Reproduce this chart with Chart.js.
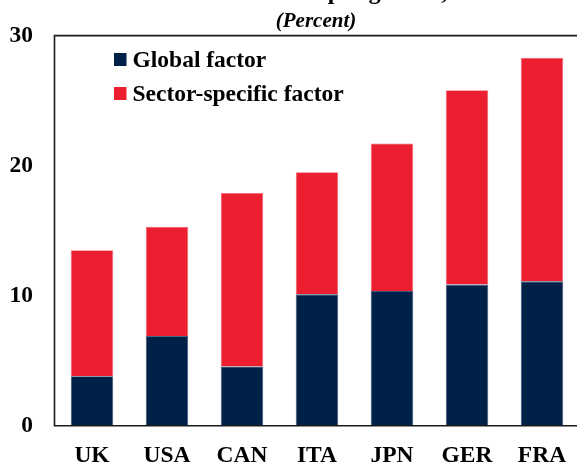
<!DOCTYPE html>
<html>
<head>
<meta charset="utf-8">
<script src="https://cdn.jsdelivr.net/npm/chart.js@4/dist/chart.umd.min.js"></script>
<style>
  html, body { margin: 0; padding: 0; background: #fff; overflow: hidden; }
  #wrap { width: 577px; height: 464px; overflow: hidden; position: relative; }
  canvas { display: block; }
</style>
</head>
<body>
<div id="wrap"><canvas id="c" width="585" height="464"></canvas></div>
<script>
// Countries along the horizontal axis
const countries = ['UK', 'USA', 'CAN', 'ITA', 'JPN', 'GER', 'FRA'];
// Share of output-growth variance explained by each factor (percent)
const globalFactor = [3.8, 6.9, 4.55, 10.1, 10.35, 10.85, 11.1];
const sectorFactor = [9.7, 8.4, 13.35, 9.4, 11.35, 14.95, 17.2];
// Vertical axis ticks
const yTicks = [0, 10, 20, 30];

const seriesNames = ['Global factor', 'Sector-specific factor'];
const NAVY = '#002147';
const RED = '#ec1f31';
const SERIF = '"Liberation Serif", "Times New Roman", serif';

// Header text, legend box and frame drawn on the canvas
const decorations = {
  id: 'decorations',
  afterDraw(chart) {
    const ctx = chart.ctx;
    const a = chart.chartArea;
    ctx.save();
    // main heading (mostly above the visible canvas) and unit line
    ctx.fillStyle = '#000';
    ctx.textAlign = 'center';
    ctx.textBaseline = 'alphabetic';
    ctx.font = 'bold 24px ' + SERIF;
    ctx.fillText('Variances of sectoral output growth, % of total', 316, -1.5);
    ctx.font = 'italic bold 21px ' + SERIF;
    ctx.fillText('(Percent)', 316, 27);

    // legend
    const rows = [59.5, 93.5];
    chart.data.datasets.forEach((ds, i) => {
      const cy = rows[i];
      ctx.fillStyle = ds.backgroundColor;
      ctx.fillRect(114, cy - 6.5, 12.5, 13);
      ctx.fillStyle = '#000';
      ctx.textAlign = 'left';
      ctx.textBaseline = 'middle';
      ctx.font = 'bold 23.5px ' + SERIF;
      ctx.fillText(ds.label, 132.5, cy + 1);
    });

    // frame: top, left and bottom edges
    ctx.strokeStyle = '#1a1a1a';
    ctx.lineWidth = 1.6;
    ctx.beginPath();
    ctx.moveTo(a.right + 10, a.top);
    ctx.lineTo(a.left, a.top);
    ctx.lineTo(a.left, a.bottom);
    ctx.lineTo(a.right + 10, a.bottom);
    ctx.stroke();
    ctx.restore();
  }
};

new Chart(document.getElementById('c'), {
  type: 'bar',
  data: {
    labels: countries,
    datasets: [
      {
        label: seriesNames[0],
        data: globalFactor,
        backgroundColor: NAVY,
        borderColor: '#3d5577',
        borderWidth: 0.8
      },
      {
        label: seriesNames[1],
        data: sectorFactor,
        backgroundColor: RED,
        borderColor: '#f06a75',
        borderWidth: 0.8
      }
    ]
  },
  options: {
    responsive: false,
    animation: false,
    devicePixelRatio: 1,
    layout: { padding: { top: 33.5, right: 5.5, left: 0, bottom: 0 } },
    plugins: {
      legend: { display: false },
      title: { display: false },
      tooltip: { enabled: false }
    },
    datasets: {
      bar: { barPercentage: 0.567, categoryPercentage: 1 }
    },
    scales: {
      x: {
        stacked: true,
        grid: { display: false, drawTicks: false },
        border: { display: false },
        afterFit(s) { s.height = 38.3; },
        ticks: {
          color: '#000',
          padding: 16,
          maxRotation: 0,
          font: { family: SERIF, size: 23.5, weight: 'bold' }
        }
      },
      y: {
        stacked: true,
        min: 0,
        max: 30,
        afterFit(s) { s.width = 54.5; },
        afterBuildTicks(s) { s.ticks = yTicks.map(v => ({ value: v })); },
        grid: { display: false, drawTicks: false },
        border: { display: false },
        ticks: {
          color: '#000',
          padding: 21.5,
          font: { family: SERIF, size: 23.5, weight: 'bold' }
        }
      }
    }
  },
  plugins: [decorations]
});
</script>
</body>
</html>
